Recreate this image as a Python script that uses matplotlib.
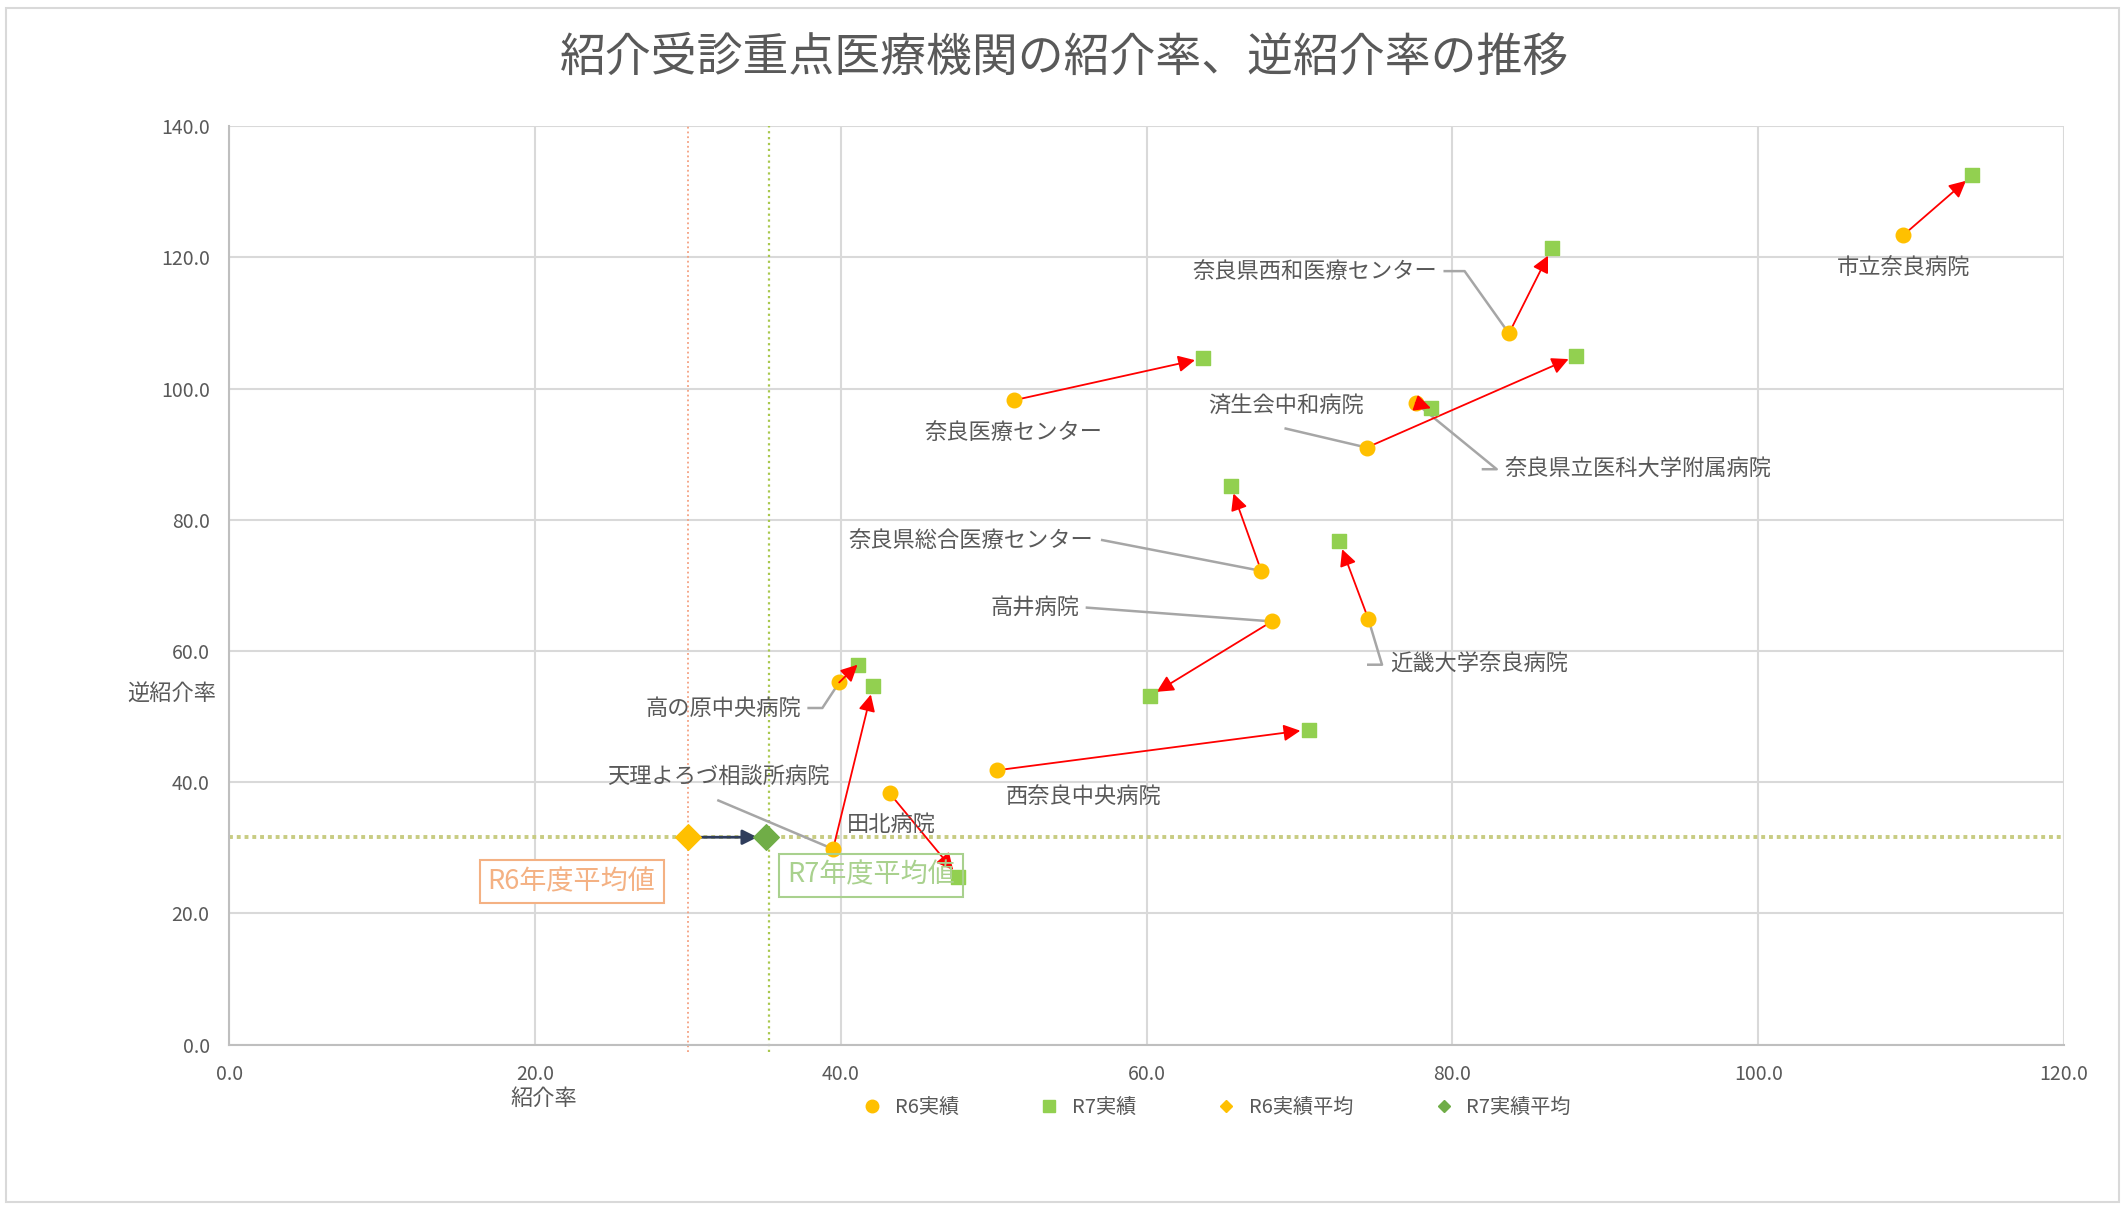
import matplotlib.pyplot as plt
from matplotlib.lines import Line2D
from matplotlib.patches import Rectangle

plt.rcParams['font.family'] = ['Noto Sans CJK JP', 'DejaVu Sans']

# データ
hospitals = ["市立奈良病院", "奈良県西和医療センター", "奈良医療センター", "済生会中和病院",
             "奈良県立医科大学附属病院", "奈良県総合医療センター", "高井病院", "近畿大学奈良病院",
             "西奈良中央病院", "高の原中央病院", "天理よろづ相談所病院", "田北病院"]
r6_x = [109.5, 83.7, 51.3, 74.4, 77.6, 67.5, 68.2, 74.5, 50.2, 39.9, 39.5, 43.2]
r6_y = [123.4, 108.4, 98.2, 91.0, 97.8, 72.2, 64.5, 64.9, 41.8, 55.2, 29.8, 38.3]
r7_x = [114.0, 86.5, 63.7, 88.1, 78.6, 65.5, 60.2, 72.6, 70.6, 41.1, 42.1, 47.7]
r7_y = [132.5, 121.4, 104.6, 105.0, 97.0, 85.2, 53.1, 76.7, 48.0, 57.9, 54.6, 25.6]
r6_avg = (30.0, 31.6)
r7_avg = (35.1, 31.6)

# ラベル位置 (x, y, ha) と引き出し線
label_pos = [(109.5, 118.5, "center"), (79.0, 117.9, "right"), (51.3, 93.3, "center"),
             (69.1, 97.4, "center"), (83.4, 87.7, "left"), (56.5, 76.9, "right"),
             (55.6, 66.6, "right"), (75.9, 57.9, "left"), (55.9, 37.8, "center"),
             (37.4, 51.3, "right"), (32.0, 40.7, "center"), (43.3, 33.5, "center")]
leaders = {1: [(79.5, 117.9), (80.8, 117.9)],
           3: [(69.1, 93.9)],
           4: [(82.0, 87.7), (82.9, 87.7)],
           5: [(57.1, 76.9)],
           6: [(56.1, 66.6)],
           7: [(74.5, 57.9), (75.4, 57.9)],
           9: [(37.9, 51.3), (38.8, 51.3)],
           10: [(32.0, 37.2)]}

gray = "#595959"
orange = "#FFC000"
green = "#92D050"

fig = plt.figure(figsize=(21.25, 12.06), dpi=100)
ax = fig.add_axes([0.1078, 0.1339, 0.8635, 0.7615])
fig.patches.append(Rectangle((0.003, 0.003), 0.994, 0.99, transform=fig.transFigure,
                             fill=False, edgecolor="#D9D9D9", linewidth=1.5))

ax.set_xlim(0, 120)
ax.set_ylim(0, 140)
ax.set_xticks(range(0, 121, 20))
ax.set_yticks(range(0, 141, 20))
ax.set_xticklabels([f"{v:.1f}" for v in range(0, 121, 20)])
ax.set_yticklabels([f"{v:.1f}" for v in range(0, 141, 20)])
ax.tick_params(length=0, labelsize=14, colors=gray, pad=14)
ax.grid(True, color="#D9D9D9", linewidth=1.5)
ax.set_axisbelow(True)
for s in ["top", "right"]:
    ax.spines[s].set_visible(False)
for s in ["left", "bottom"]:
    ax.spines[s].set_color("#BFBFBF")
    ax.spines[s].set_linewidth(1.5)

# 平均線
ax.axhline(r6_avg[1], color="#C8CC82", linestyle=(0, (1, 1)), linewidth=2.8)
ax.axvline(r6_avg[0], ymin=-0.008, color="#F4A080", linestyle=":", linewidth=1.3, clip_on=False)
ax.axvline(r7_avg[0] + 0.2, ymin=-0.008, color="#A9C84E", linestyle=":", linewidth=1.6, clip_on=False)

# 矢印
for i in range(len(hospitals)):
    dist = ((r7_x[i] - r6_x[i]) ** 2 + ((r7_y[i] - r6_y[i]) / 1.17) ** 2) ** 0.5
    sa, sb, z = (4, 6, 3) if dist > 3 else (0, 0, 5)
    ax.annotate("", xy=(r7_x[i], r7_y[i]), xytext=(r6_x[i], r6_y[i]),
                arrowprops=dict(arrowstyle="-|>,head_length=1.0,head_width=0.5", color="#FF0000",
                                linewidth=1.3, shrinkA=sa, shrinkB=sb), zorder=z)
ax.annotate("", xy=r7_avg, xytext=r6_avg,
            arrowprops=dict(arrowstyle="-|>,head_length=0.9,head_width=0.45", color="#2F3D5C",
                            linewidth=2.0, shrinkA=6, shrinkB=6), zorder=3)

# 引き出し線
for i, pts in leaders.items():
    xs = [p[0] for p in pts] + [r6_x[i]]
    ys = [p[1] for p in pts] + [r6_y[i]]
    ax.plot(xs, ys, color="#A6A6A6", linewidth=1.8, zorder=2)

ax.scatter(r6_x, r6_y, s=110, color=orange, marker="o", zorder=4)
ax.scatter(r7_x, r7_y, s=110, color=green, marker="s", zorder=4)
ax.scatter([r6_avg[0]], [r6_avg[1]], s=170, color=orange, marker="D", zorder=4)
ax.scatter([r7_avg[0]], [r7_avg[1]], s=170, color="#70AD47", marker="D", zorder=4)

for name, (lx, ly, ha) in zip(hospitals, label_pos):
    ax.text(lx, ly, name, ha=ha, va="center", fontsize=16, color=gray, zorder=5)

ax.text(22.4, 24.8, "R6年度平均値", ha="center", va="center", fontsize=19.5, color="#F4B183",
        bbox=dict(boxstyle="square,pad=0.3", facecolor="white", edgecolor="#F4B183", linewidth=1.5),
        zorder=5)
ax.text(42.0, 25.8, "R7年度平均値", ha="center", va="center", fontsize=19.5, color="#A9D18E",
        bbox=dict(boxstyle="square,pad=0.3", facecolor="none", edgecolor="#A9D18E", linewidth=1.5),
        zorder=5)

fig.text(0.501, 0.952, "紹介受診重点医療機関の紹介率、逆紹介率の推移", ha="center", va="center",
         fontsize=33, color=gray)
fig.text(0.256, 0.089, "紹介率", ha="center", va="center", fontsize=16, color=gray)
fig.text(0.081, 0.425, "逆紹介率", ha="center", va="center", fontsize=16, color=gray)

handles = [Line2D([], [], marker="o", linestyle="", color=orange, markersize=9),
           Line2D([], [], marker="s", linestyle="", color=green, markersize=9),
           Line2D([], [], marker="D", linestyle="", color=orange, markersize=6),
           Line2D([], [], marker="D", linestyle="", color="#70AD47", markersize=6)]
fig.legend(handles, ["R6実績", "R7実績", "R6実績平均", "R7実績平均"], loc="center",
           bbox_to_anchor=(0.57, 0.082), ncol=4, frameon=False, fontsize=14.5,
           labelcolor=gray, handletextpad=0.1, columnspacing=3.5)

fig.savefig("out.png", dpi=100)
